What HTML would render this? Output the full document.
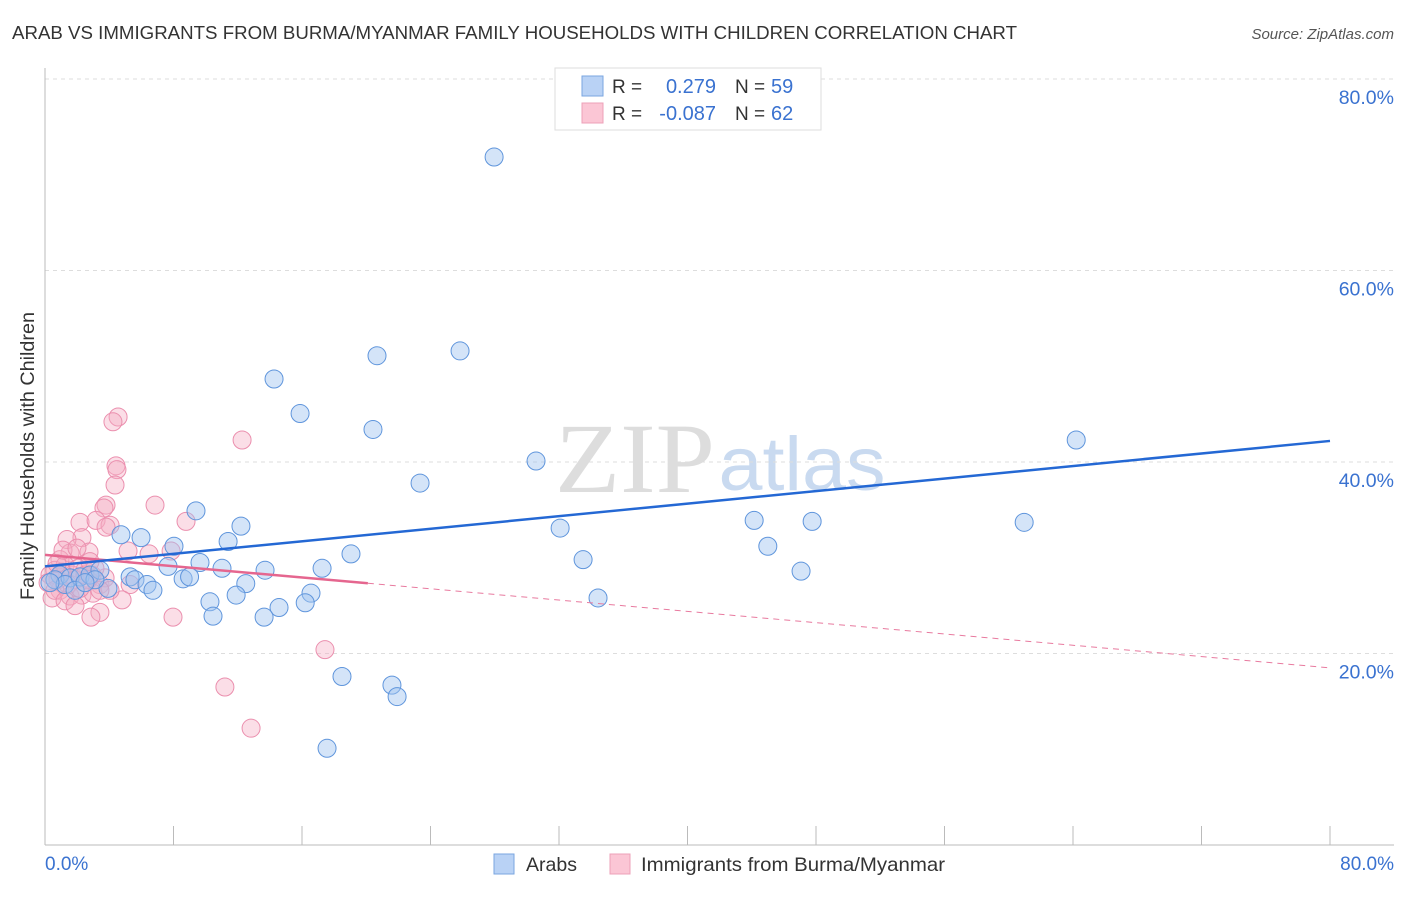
<!DOCTYPE html>
<html><head><meta charset="utf-8"><style>
body{margin:0;background:#fff;font-family:"Liberation Sans",sans-serif;}
</style></head><body>
<svg width="1406" height="892" id="c" font-family="Liberation Sans, sans-serif">
<text x="12" y="39" font-size="18" fill="#333" textLength="1005" lengthAdjust="spacingAndGlyphs">ARAB VS IMMIGRANTS FROM BURMA/MYANMAR FAMILY HOUSEHOLDS WITH CHILDREN CORRELATION CHART</text>
<text x="1394" y="39" font-size="15" fill="#555" text-anchor="end" font-style="italic">Source: ZipAtlas.com</text>
<text x="635" y="492" font-size="100" fill="#ddd" style="font-family:'Liberation Serif',serif" text-anchor="middle" textLength="160" lengthAdjust="spacingAndGlyphs">ZIP</text>
<text x="802" y="490" font-size="76" fill="#c9daf0" text-anchor="middle" textLength="167" lengthAdjust="spacingAndGlyphs">atlas</text>
<text transform="translate(34,456) rotate(-90)" font-size="19" fill="#333" text-anchor="middle" textLength="288" lengthAdjust="spacingAndGlyphs">Family Households with Children</text>
<g id="grid"></g><g id="pts"></g><g id="lines"></g>
<g>
<rect x="555" y="68" width="266" height="62" fill="#fff" stroke="#ddd"/>
<rect x="582" y="76" width="21" height="20" fill="#b9d2f5" stroke="#7aa6e0"/>
<rect x="582" y="103" width="21" height="20" fill="#fbc6d5" stroke="#eca0b8"/>
<text x="612" y="93" font-size="19" fill="#333">R = </text><text x="716" y="93" font-size="20" fill="#3a72d0" text-anchor="end">0.279</text>
<text x="735" y="93" font-size="19" fill="#333">N = </text><text x="771" y="93" font-size="20" fill="#3a72d0">59</text>
<text x="612" y="120" font-size="19" fill="#333">R = </text><text x="716" y="120" font-size="20" fill="#3a72d0" text-anchor="end">-0.087</text>
<text x="735" y="120" font-size="19" fill="#333">N = </text><text x="771" y="120" font-size="20" fill="#3a72d0">62</text>
</g>
<g>
<rect x="494" y="854" width="20" height="20" fill="#b9d2f5" stroke="#7aa6e0"/>
<text x="526" y="871" font-size="19.5" fill="#333" textLength="51" lengthAdjust="spacingAndGlyphs">Arabs</text>
<rect x="610" y="854" width="20" height="20" fill="#fbc6d5" stroke="#eca0b8"/>
<text x="641" y="871" font-size="19.5" fill="#333" textLength="304" lengthAdjust="spacingAndGlyphs">Immigrants from Burma/Myanmar</text>
</g>
<text x="45" y="870" font-size="19" fill="#3a72d0">0.0%</text>
<text x="1394" y="870" font-size="19" fill="#3a72d0" text-anchor="end">80.0%</text>
</svg>
<script>
const yTicks=[20,40,60,80];
const xTicks=[0,8,16,24,32,40,48,56,64,72,80];
const blueX=[27.96,25.84,20.67,14.26,15.88,20.42,30.57,23.35,64.2,9.4,12.2,32.07,44.15,47.76,60.96,5.98,4.73,8.03,11.4,19.05,33.5,45.0,9.65,7.66,11.02,13.7,17.25,47.07,8.6,9.0,5.3,5.6,6.35,6.72,3.92,12.5,16.56,11.9,10.27,16.2,14.57,34.43,13.64,10.46,18.49,21.6,21.92,17.56,0.93,0.62,1.56,1.25,2.18,2.8,3.42,3.11,1.87,0.31,2.49];
const blueY=[71.85,51.6,51.1,48.67,45.06,43.4,40.1,37.8,42.3,34.9,33.3,33.1,33.9,33.8,33.7,32.1,32.4,31.2,31.7,30.4,29.8,31.2,29.5,29.1,28.9,28.7,28.9,28.6,27.8,28.0,28.0,27.7,27.2,26.6,26.8,27.3,26.3,26.1,25.4,25.3,24.8,25.8,23.8,23.9,17.6,16.7,15.5,10.1,28.2,27.7,27.9,27.2,28.0,28.2,28.7,27.7,26.6,27.4,27.4];
const pinkX=[4.55,4.23,12.27,4.42,4.48,4.36,6.85,3.8,3.67,8.78,2.18,3.18,4.05,3.8,2.3,1.37,5.17,6.48,7.85,2.74,1.56,0.93,0.62,1.25,0.31,0.81,1.68,2.05,2.49,2.93,3.42,5.3,0.93,0.44,1.56,2.3,2.99,4.8,3.42,2.86,7.97,17.43,11.2,12.83,0.19,1.06,1.87,2.68,3.74,1.43,0.62,2.18,3.11,4.05,1.25,1.87,2.49,0.75,1.12,1.99,2.8,3.42];
const pinkY=[44.7,44.2,42.3,39.6,39.2,37.6,35.5,35.5,35.2,33.8,33.7,33.9,33.4,33.2,32.1,31.9,30.7,30.4,30.7,30.6,30.5,29.8,28.7,29.2,28.2,27.7,28.2,28.9,28.7,28.2,27.2,27.2,26.6,25.8,26.0,26.1,26.3,25.6,24.3,23.8,23.8,20.4,16.5,12.2,27.4,28.5,27.7,27.7,27.9,27.2,26.6,26.8,28.9,26.6,25.5,25.0,28.2,29.4,30.8,31.0,29.6,26.6];
const blueTrend=[29.1,42.2];
const pinkTrend=[30.3,18.5];
const pinkSolidEnd=20.1;
const NS='http://www.w3.org/2000/svg';
const X=v=>45+v*(1285/80), Y=v=>845-v*(766/80);
function mk(t,a,p){const e=document.createElementNS(NS,t);for(const k in a)e.setAttribute(k,a[k]);p.appendChild(e);return e;}
const grid=document.getElementById('grid');
yTicks.forEach(t=>{
 const l=mk('line',{x1:45,x2:1394,y1:Y(t),y2:Y(t),stroke:'#ddd','stroke-dasharray':'4,4'},grid);
 
 
 const tx=mk('text',{x:1394,y:Y(t)+25,'font-size':19.5,fill:'#3a72d0','text-anchor':'end'},grid);
 tx.textContent=t.toFixed(1)+'%';
 
 
});
const ax=mk('line',{x1:45,x2:45,y1:68,y2:845,stroke:'#bbb'},grid);


const bx=mk('line',{x1:45,x2:1394,y1:845,y2:845,stroke:'#bbb'},grid);


xTicks.forEach(t=>{
 const l=mk('line',{x1:X(t),x2:X(t),y1:826,y2:845,stroke:'#bbb'},grid);
 
 
});
const pts=document.getElementById('pts');
pinkX.forEach((v,i)=>{
 const c=mk('circle',{cx:X(v),cy:Y(pinkY[i]),r:9,fill:'rgba(246,172,196,0.4)',stroke:'#eb8fae','stroke-width':1},pts);
 
 
});
blueX.forEach((v,i)=>{
 const c=mk('circle',{cx:X(v),cy:Y(blueY[i]),r:9,fill:'rgba(160,196,240,0.45)',stroke:'#5f95dc','stroke-width':1},pts);
 
 
});
const ln=document.getElementById('lines');
const pAt=x=>pinkTrend[0]+(pinkTrend[1]-pinkTrend[0])*x/80;
let a=mk('line',{x1:X(pinkSolidEnd),y1:Y(pAt(pinkSolidEnd)),x2:X(80),y2:Y(pinkTrend[1]),stroke:'#e87a9f','stroke-width':1,'stroke-dasharray':'6,5'},ln);


a=mk('line',{x1:X(0),y1:Y(pinkTrend[0]),x2:X(pinkSolidEnd),y2:Y(pAt(pinkSolidEnd)),stroke:'#e5668f','stroke-width':2.5},ln);


a=mk('line',{x1:X(0),y1:Y(blueTrend[0]),x2:X(80),y2:Y(blueTrend[1]),stroke:'#2468d4','stroke-width':2.5},ln);


</script>
</body></html>
